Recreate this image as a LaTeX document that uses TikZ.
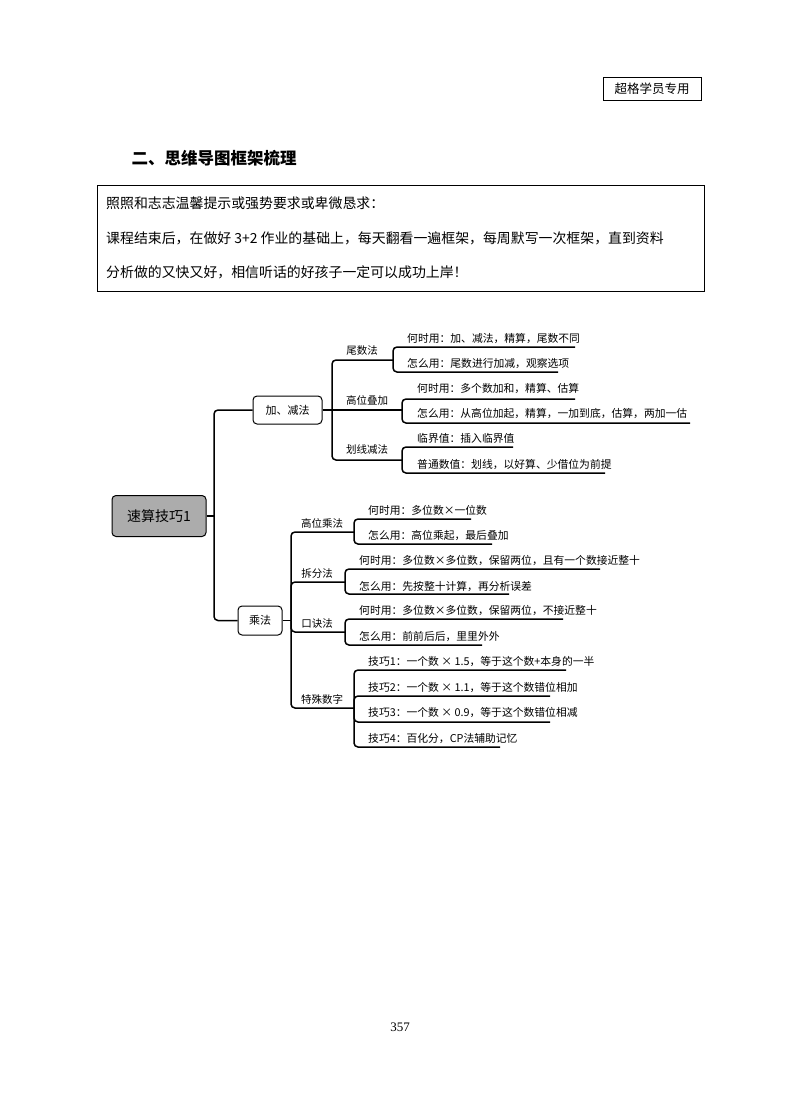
\documentclass[tikz,border=0pt]{standalone}
\usepackage{fontspec}
\setmainfont{Liberation Serif}
\newfontfamily\cjk{Noto Sans CJK SC}
\begin{document}
\begin{tikzpicture}[x=1pt,y=-1pt,
  br/.style={line width=1.5pt,rounded corners=4pt},
  lf/.style={anchor=base west,font=\cjk\fontsize{10.8}{12}\selectfont,inner sep=0pt},
  bt/.style={anchor=base,font=\cjk\fontsize{10.5}{12}\selectfont,inner sep=0pt},
  box/.style={draw,line width=1pt,rounded corners=4pt,font=\cjk\fontsize{11}{12}\selectfont}]
\useasboundingbox (0,0) rectangle (800,1114);
\node[draw,line width=0.8pt,minimum width=98pt,minimum height=23pt,font=\cjk\fontsize{12.5}{14}\selectfont] (tag) at (652,88.5) {超格学员专用};
\node[anchor=west,font=\cjk\bfseries\fontsize{16.5}{18}\selectfont] (h) at (128,158) {二、思维导图框架梳理};
\node[draw,line width=0.8pt,minimum width=607pt,minimum height=106pt] (frame) at (400.5,238) {};
\node[anchor=base west,font=\cjk\fontsize{13.9}{15}\selectfont,inner sep=0pt] (t1) at (106,208) {照照和志志温馨提示或强势要求或卑微恳求：};
\node[anchor=base west,font=\cjk\fontsize{13.9}{15}\selectfont,inner sep=0pt] (t2) at (106,243) {课程结束后，在做好 3+2 作业的基础上，每天翻看一遍框架，每周默写一次框架，直到资料};
\node[anchor=base west,font=\cjk\fontsize{13.9}{15}\selectfont,inner sep=0pt] (t3) at (106,277) {分析做的又快又好，相信听话的好孩子一定可以成功上岸！};
\node[font=\fontsize{13}{14}\selectfont] (pg) at (400,1027) {357};
% root
\node[box,fill=gray!65,minimum width=94pt,minimum height=41pt,font=\cjk\fontsize{14}{16}\selectfont] (root) at (159,516) {速算技巧1};
\node[box,minimum width=69pt,minimum height=28pt] (add) at (287.5,410) {加、减法};
\node[box,minimum width=44pt,minimum height=29pt] (mul) at (260,620.5) {乘法};
\draw[br] (root.east) -- (214,516);
\draw[br] (214,516) |- (add.west);
\draw[br] (214,516) |- (mul.west);
% add branches
\draw[br] (add.east) -- (332,410);
\draw[br] (332,410) |- (393,360); \node[bt] (a1) at (362,354) {尾数法};
\draw[br] (332,410) -- (402,410); \node[bt] (a2) at (367,404) {高位叠加};
\draw[br] (332,410) |- (402,460); \node[bt] (a3) at (367,453) {划线减法};
\draw[br] (393,360) |- (575,347); \draw[br] (393,360) |- (558,372);
\node[lf] at (407,342) {何时用：加、减法，精算，尾数不同};
\node[lf] at (407,367) {怎么用：尾数进行加减，观察选项};
\draw[br] (402,410) |- (575,399); \draw[br] (402,410) |- (690,423);
\node[lf] at (417,392) {何时用：多个数加和，精算、估算};
\node[lf] at (417,417) {怎么用：从高位加起，精算，一加到底，估算，两加一估};
\draw[br] (402,460) |- (513,447); \draw[br] (402,460) |- (605,473);
\node[lf] at (417,442) {临界值：插入临界值};
\node[lf] at (417,468) {普通数值：划线，以好算、少借位为前提};
% mul branches
\draw[br] (mul.east) -- (291,620.5);
\draw[br] (291,620.5) |- (354,532); \node[bt] (m1) at (322,527) {高位乘法};
\draw[br] (291,620.5) |- (345,582); \node[bt] (m2) at (317,577) {拆分法};
\draw[br] (291,620.5) |- (345,632); \node[bt] (m3) at (317,627) {口诀法};
\draw[br] (291,620.5) |- (354,708); \node[bt] (m4) at (322,703) {特殊数字};
\draw[br] (354,532) |- (471,519); \draw[br] (354,532) |- (492,544);
\node[lf] at (368,514) {何时用：多位数×一位数};
\node[lf] at (368,539) {怎么用：高位乘起，最后叠加};
\draw[br] (345,582) |- (600,569); \draw[br] (345,582) |- (509,594);
\node[lf] at (359,564) {何时用：多位数×多位数，保留两位，且有一个数接近整十};
\node[lf] at (359,590) {怎么用：先按整十计算，再分析误差};
\draw[br] (345,632) |- (563,619); \draw[br] (345,632) |- (482,645);
\node[lf] at (359,614) {何时用：多位数×多位数，保留两位，不接近整十};
\node[lf] at (359,640) {怎么用：前前后后，里里外外};
\draw[br] (354,708) |- (566,670); \draw[br] (354,708) |- (550,696);
\draw[br] (354,708) |- (550,722); \draw[br] (354,708) |- (500,747);
\node[lf] at (368,665) {技巧1：一个数 × 1.5，等于这个数+本身的一半};
\node[lf] at (368,691) {技巧2：一个数 × 1.1，等于这个数错位相加};
\node[lf] at (368,716) {技巧3：一个数 × 0.9，等于这个数错位相减};
\node[lf] at (368,742) {技巧4：百化分，CP法辅助记忆};
\end{tikzpicture}
\end{document}
